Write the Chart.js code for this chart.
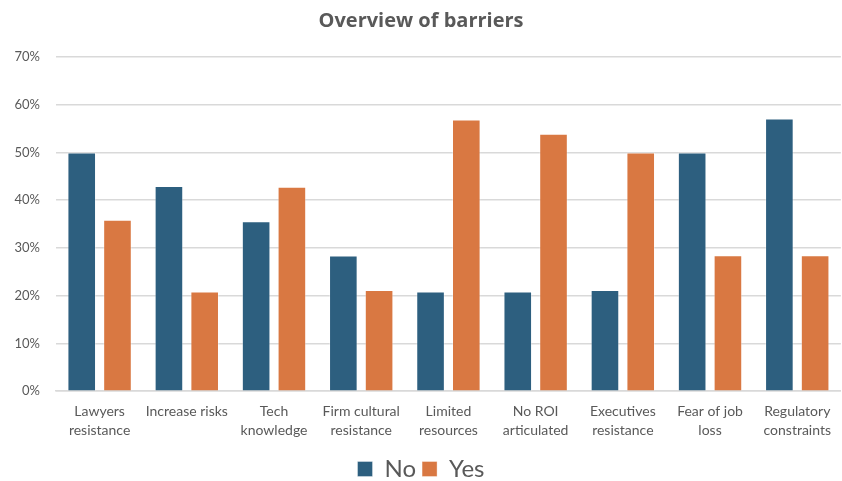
<!DOCTYPE html>
<html>
<head>
<meta charset="utf-8">
<script src="https://cdn.jsdelivr.net/npm/chart.js@4"></script>
<style>
  html, body { margin: 0; padding: 0; background: #fff; }
  #wrap { width: 842px; height: 481px; }
</style>
</head>
<body>
<div id="wrap"><canvas id="barriers"></canvas></div>
<script>
const categories = [
  ['Lawyers', 'resistance'], ['Increase risks'], ['Tech', 'knowledge'],
  ['Firm cultural', 'resistance'], ['Limited', 'resources'], ['No ROI', 'articulated'],
  ['Executives', 'resistance'], ['Fear of job', 'loss'], ['Regulatory', 'constraints']
];
const noValues  = [50, 43, 35.6, 28.4, 20.9, 20.9, 21.2, 50, 57.1];
const yesValues = [35.9, 20.9, 42.8, 21.2, 56.9, 53.9, 50, 28.5, 28.5];
const seriesNames = ['No', 'Yes'];
const yTicks = [0, 10, 20, 30, 40, 50, 60, 70];

const grey = '#595959';

document.addEventListener('DOMContentLoaded', function () {
  const ctx = document.getElementById('barriers').getContext('2d');

  new Chart(ctx, {
    type: 'bar',
    data: {
      labels: categories,
      datasets: [
        { label: seriesNames[0], data: noValues, backgroundColor: '#2d5f7f',
          borderColor: 'rgba(255,255,255,0.35)', borderWidth: 1 },
        { label: seriesNames[1], data: yesValues, backgroundColor: '#d97842',
          borderColor: 'rgba(255,255,255,0.35)', borderWidth: 1 }
      ]
    },
    options: {
      responsive: true,
      maintainAspectRatio: false,
      animation: false,
      // negative bottom padding pushes the legend down to the canvas edge
      layout: { padding: { left: 0, right: 0, top: 4, bottom: -10 } },
      datasets: { bar: { barPercentage: 0.8, categoryPercentage: 0.82 } },
      plugins: {
        tooltip: { enabled: false },
        title: {
          display: true,
          text: 'Overview of barriers',
          color: grey,
          font: { family: 'Open Sans', size: 20, weight: 'bold' },
          padding: { top: 5, bottom: 24 }
        },
        legend: {
          position: 'bottom',
          labels: {
            color: grey,
            boxWidth: 15,
            boxHeight: 15,
            padding: 6,
            font: { family: 'Lato', size: 24 }
          }
        }
      },
      scales: {
        x: {
          grid: { display: false, drawTicks: false },
          border: { display: true, color: '#d9d9d9', width: 1.5 },
          ticks: {
            color: grey,
            padding: 11,
            maxRotation: 0,
            autoSkip: false,
            font: { family: 'Lato', size: 14, lineHeight: 1.35 }
          }
        },
        y: {
          min: 0,
          max: 70,
          afterFit: function (scale) { scale.width = 56; },
          afterBuildTicks: function (scale) { scale.ticks = yTicks.map(v => ({ value: v })); },
          grid: { color: '#d9d9d9', lineWidth: 1.5, drawTicks: false },
          border: { display: false },
          ticks: {
            color: grey,
            padding: 16,
            font: { family: 'Lato', size: 13 },
            callback: function (v) { return v + '%'; }
          }
        }
      }
    }
  });
});
</script>
</body>
</html>
